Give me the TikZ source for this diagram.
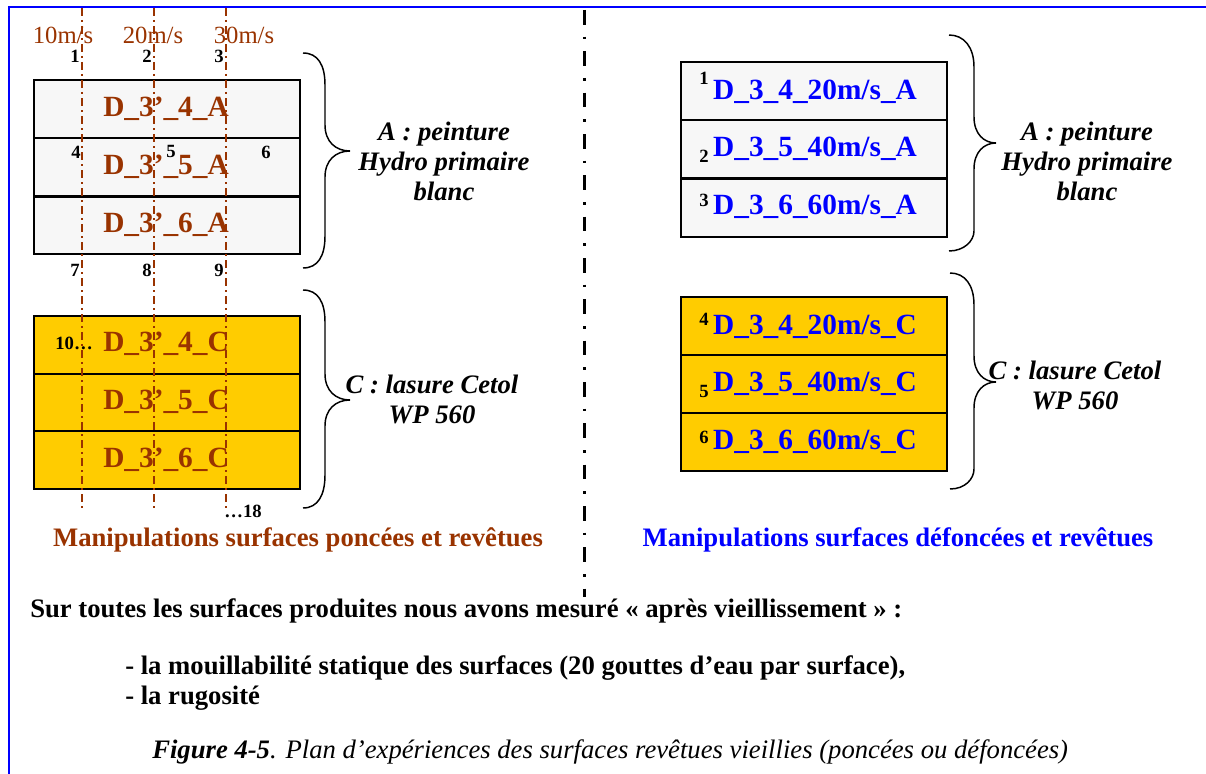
\documentclass[tikz,border=0pt]{standalone}
\usepackage{fontspec}
\setmainfont{Liberation Serif}
\definecolor{brn}{HTML}{993300}
\definecolor{gold}{HTML}{FFCC00}
\definecolor{pale}{HTML}{F7F7F7}
\definecolor{fblue}{HTML}{0000FF}
\begin{document}
\begin{tikzpicture}[x=0.75pt,y=-0.75pt,
  rowbox/.style={draw=black, line width=1.5pt, minimum width=199pt, minimum height=43.4pt, inner sep=0pt, outer sep=0pt},
  rowA/.style={rowbox, fill=pale},
  rowC/.style={rowbox, fill=gold},
  lab/.style={inner sep=0pt, font=\fontsize{22}{24}\selectfont\bfseries},
  num/.style={inner sep=0pt, font=\fontsize{14}{16}\selectfont\bfseries},
  speed/.style={inner sep=0pt, text=brn, font=\fontsize{18.5}{20}\selectfont},
  guide/.style={draw=brn, line width=1pt, dash pattern=on 6pt off 3pt on 1.5pt off 3pt},
  bracel/.style={draw=black, line width=1.1pt},
  bracetext/.style={inner sep=0pt, align=center, font=\fontsize{20}{22.5}\selectfont\bfseries\itshape},
  title/.style={inner sep=0pt, font=\fontsize{20}{22}\selectfont\bfseries},
  body/.style={inner sep=0pt, anchor=west, font=\fontsize{20}{22}\selectfont\bfseries}
]
\useasboundingbox (0,0) rectangle (1206,774);
% outer frame
\draw[fblue, line width=1.6pt] (9,774) -- (9,7) -- (1206,7);
% separator
\coordinate (s1) at (584,10);
\coordinate (s2) at (584,597);
\draw[black, line width=2.25pt, dash pattern=on 11pt off 9pt on 2pt off 9pt] (s1) -- (s2);

% ---------- left panel ----------
\node[rowA] (la1) at (167,109) {};
\node[rowA] (la2) at (167,167) {};
\node[rowA] (la3) at (167,225.5) {};
\node[rowC] (lc1) at (167,344.8) {};
\node[rowC] (lc2) at (167,402.5) {};
\node[rowC] (lc3) at (167,460.2) {};
\node[lab, text=brn] (ta1) at (166,109) {D\_3’\_4\_A};
\node[lab, text=brn] (ta2) at (166,167) {D\_3’\_5\_A};
\node[lab, text=brn] (ta3) at (166,225) {D\_3’\_6\_A};
\node[lab, text=brn] (tc1) at (166,344) {D\_3’\_4\_C};
\node[lab, text=brn] (tc2) at (166,402) {D\_3’\_5\_C};
\node[lab, text=brn] (tc3) at (166,460) {D\_3’\_6\_C};

% guide lines
\foreach \x/\n in {82/g1,154/g2,226/g3}{
  \coordinate (\n t) at (\x,8);
  \coordinate (\n b) at (\x,508);
  \draw[guide] (\n t) -- (\n b);
}
\node[speed] (v1) at (63,35) {10m/s};
\node[speed] (v2) at (153,35) {20m/s};
\node[speed] (v3) at (244,35) {30m/s};

\node[num] (n1) at (75,56) {1};
\node[num] (n2) at (147,56) {2};
\node[num] (n3) at (219,56) {3};
\node[num] (n4) at (76,152) {4};
\node[num] (n5) at (171,151) {5};
\node[num] (n6) at (266,152) {6};
\node[num] (n7) at (75,270) {7};
\node[num] (n8) at (147,270) {8};
\node[num] (n9) at (219,270) {9};
\node[num] (n10) at (74,343) {10…};
\node[num] (n18) at (243,511) {…18};

% braces left
\draw[bracel] (303,53) .. controls (318,53) and (325,65) .. (325,85) -- (325,125)
  .. controls (325,142) and (336,151) .. (350,151)
  .. controls (336,151) and (325,160) .. (325,177) -- (325,236)
  .. controls (325,256) and (318,268) .. (303,268);
\draw[bracel] (303,290) .. controls (318,290) and (325,302) .. (325,322) -- (325,374)
  .. controls (325,391) and (336,400) .. (350,400)
  .. controls (336,400) and (325,409) .. (325,426) -- (325,475)
  .. controls (325,495) and (318,508) .. (303,508);
\node[bracetext] (bla) at (444,161) {A : peinture\\Hydro primaire\\blanc};
\node[bracetext] (blc) at (432,399.5) {C : lasure Cetol\\WP 560};
\node[title, text=brn] (tl) at (298,540) {Manipulations surfaces poncées et revêtues};

% ---------- right panel ----------
\node[rowA] (ra1) at (814,91) {};
\node[rowA] (ra2) at (814,149.3) {};
\node[rowA] (ra3) at (814,207.6) {};
\node[rowC] (rc1) at (814,326) {};
\node[rowC] (rc2) at (814,384) {};
\node[rowC] (rc3) at (814,442) {};
\node[lab, text=fblue] (sa1) at (815,92) {D\_3\_4\_20m/s\_A};
\node[lab, text=fblue] (sa2) at (815,149) {D\_3\_5\_40m/s\_A};
\node[lab, text=fblue] (sa3) at (815,207) {D\_3\_6\_60m/s\_A};
\node[lab, text=fblue] (sc1) at (815,327) {D\_3\_4\_20m/s\_C};
\node[lab, text=fblue] (sc2) at (815,384) {D\_3\_5\_40m/s\_C};
\node[lab, text=fblue] (sc3) at (815,442) {D\_3\_6\_60m/s\_C};
\node[num] (m1) at (704,78) {1};
\node[num] (m2) at (704,156) {2};
\node[num] (m3) at (704,200) {3};
\node[num] (m4) at (704,319) {4};
\node[num] (m5) at (704,391) {5};
\node[num] (m6) at (704,437) {6};

\draw[bracel] (949,35) .. controls (964,35) and (974,47) .. (974,67) -- (974,117)
  .. controls (974,134) and (984,143) .. (996,143)
  .. controls (984,143) and (974,152) .. (974,169) -- (974,231)
  .. controls (974,241) and (964,251) .. (949,251);
\draw[bracel] (950,273) .. controls (965,273) and (974,285) .. (974,305) -- (974,356)
  .. controls (974,373) and (984,382) .. (996,382)
  .. controls (984,382) and (974,391) .. (974,408) -- (974,469)
  .. controls (974,479) and (965,489) .. (950,489);
\node[bracetext] (bra) at (1087,161) {A : peinture\\Hydro primaire\\blanc};
\node[bracetext] (brc) at (1075,385) {C : lasure Cetol\\WP 560};
\node[title, text=fblue] (tr) at (898,540) {Manipulations surfaces défoncées et revêtues};

% ---------- bottom ----------
\node[body] (p1) at (30,611) {Sur toutes les surfaces produites nous avons mesuré « après vieillissement » :};
\node[body] (p2) at (125,668) {- la mouillabilité statique des surfaces (20 gouttes d’eau par surface),};
\node[body] (p3) at (125,698) {- la rugosité};
\node[inner sep=0pt, anchor=west, font=\fontsize{20}{22}\selectfont\itshape] (cap) at (152,752) {\textbf{Figure 4-5}. Plan d’expériences des surfaces revêtues vieillies (poncées ou défoncées)};
\end{tikzpicture}
\end{document}
